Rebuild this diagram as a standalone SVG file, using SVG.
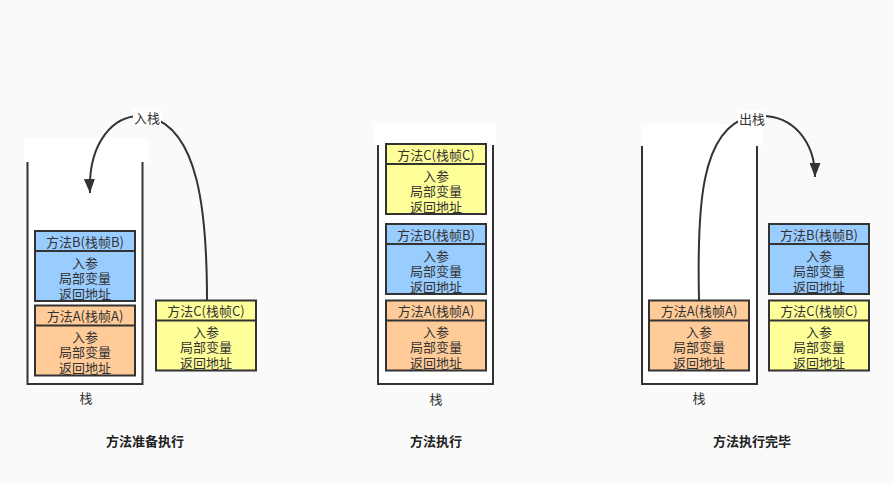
<svg xmlns="http://www.w3.org/2000/svg" width="894" height="484" viewBox="0 0 894 484">
<defs>
<style>
.bg{fill:#fafafa}
.stack{fill:#ffffff;stroke:#333;stroke-width:2}
.cover{fill:#ffffff}
.fr{stroke:#333;stroke-width:2}
.blue{fill:#99ccff}
.orange{fill:#ffcc99}
.yellow{fill:#ffff99}
text{font-family:"Noto Sans CJK SC","Noto Sans",sans-serif;font-size:13px;fill:#333;text-anchor:middle;dominant-baseline:central}
.title{font-weight:bold;font-size:13px;fill:#222}
.conn{fill:none;stroke:#333;stroke-width:2}
.lbl{fill:#ffffff}
</style>
<marker id="ah" viewBox="0 0 14 11" refX="14" refY="5.5" markerWidth="14" markerHeight="11" markerUnits="userSpaceOnUse" orient="auto">
<path d="M0,0 L14,5.5 L0,11 z" fill="#333"/>
</marker>
</defs>
<rect class="bg" x="0" y="0" width="894" height="484"/>

<g id="stack1">
<rect class="stack" x="27.5" y="150" width="115" height="234"/>
<rect class="cover" x="24" y="138" width="124" height="24"/>
<text x="86" y="397">栈</text>
</g>
<g id="stack2">
<rect class="stack" x="378" y="135" width="115" height="249"/>
<rect class="cover" x="374" y="124" width="122" height="21"/>
<text x="436" y="398">栈</text>
</g>
<g id="stack3">
<rect class="stack" x="642" y="135" width="115" height="249"/>
<rect class="cover" x="641" y="124" width="122" height="22"/>
<text x="699" y="397">栈</text>
</g>

<g id="s1-B">
<rect class="fr blue" x="35" y="231" width="100" height="70"/>
<line class="fr" x1="35" y1="251" x2="135" y2="251"/>
<text x="85" y="241">方法B(栈帧B)</text>
<text x="85" y="262">入参</text><text x="85" y="277">局部变量</text><text x="85" y="293">返回地址</text>
</g>
<g id="s1-A">
<rect class="fr orange" x="35" y="305.5" width="100" height="70"/>
<line class="fr" x1="35" y1="325.5" x2="135" y2="325.5"/>
<text x="85" y="315.5">方法A(栈帧A)</text>
<text x="85" y="336.5">入参</text><text x="85" y="351.5">局部变量</text><text x="85" y="367.5">返回地址</text>
</g>
<g id="s1-C">
<rect class="fr yellow" x="156" y="300.5" width="100" height="70"/>
<line class="fr" x1="156" y1="320.5" x2="256" y2="320.5"/>
<text x="206" y="310.5">方法C(栈帧C)</text>
<text x="206" y="331.5">入参</text><text x="206" y="346.5">局部变量</text><text x="206" y="362.5">返回地址</text>
</g>

<g id="s2-C">
<rect class="fr yellow" x="386" y="144" width="100" height="70"/>
<line class="fr" x1="386" y1="164" x2="486" y2="164"/>
<text x="436" y="154">方法C(栈帧C)</text>
<text x="436" y="175">入参</text><text x="436" y="190">局部变量</text><text x="436" y="206">返回地址</text>
</g>
<g id="s2-B">
<rect class="fr blue" x="386" y="224" width="100" height="70"/>
<line class="fr" x1="386" y1="244" x2="486" y2="244"/>
<text x="436" y="234">方法B(栈帧B)</text>
<text x="436" y="255">入参</text><text x="436" y="270">局部变量</text><text x="436" y="286">返回地址</text>
</g>
<g id="s2-A">
<rect class="fr orange" x="386" y="300.5" width="100" height="70"/>
<line class="fr" x1="386" y1="320.5" x2="486" y2="320.5"/>
<text x="436" y="310.5">方法A(栈帧A)</text>
<text x="436" y="331.5">入参</text><text x="436" y="346.5">局部变量</text><text x="436" y="362.5">返回地址</text>
</g>

<g id="s3-A">
<rect class="fr orange" x="649" y="300.5" width="100" height="70"/>
<line class="fr" x1="649" y1="320.5" x2="749" y2="320.5"/>
<text x="699" y="310.5">方法A(栈帧A)</text>
<text x="699" y="331.5">入参</text><text x="699" y="346.5">局部变量</text><text x="699" y="362.5">返回地址</text>
</g>
<g id="s3-B">
<rect class="fr blue" x="769" y="224" width="100" height="70"/>
<line class="fr" x1="769" y1="244" x2="869" y2="244"/>
<text x="819" y="234">方法B(栈帧B)</text>
<text x="819" y="255">入参</text><text x="819" y="270">局部变量</text><text x="819" y="286">返回地址</text>
</g>
<g id="s3-C">
<rect class="fr yellow" x="769" y="300.5" width="100" height="70"/>
<line class="fr" x1="769" y1="320.5" x2="869" y2="320.5"/>
<text x="819" y="310.5">方法C(栈帧C)</text>
<text x="819" y="331.5">入参</text><text x="819" y="346.5">局部变量</text><text x="819" y="362.5">返回地址</text>
</g>

<g id="connectors">
<path class="conn" d="M207,300 C207,210 198,130 150,117 C112,110 88,145 90,193" marker-end="url(#ah)"/>
<rect class="lbl" x="133" y="109" width="28" height="17"/>
<text x="147" y="117">入栈</text>
<path class="conn" d="M699,300 C697,210 700,128 750,117 C795,110 815,145 815,177" marker-end="url(#ah)"/>
<rect class="lbl" x="738" y="110" width="28" height="17"/>
<text x="752" y="118">出栈</text>
</g>

<g id="titles">
<text class="title" x="145" y="440">方法准备执行</text>
<text class="title" x="436" y="440">方法执行</text>
<text class="title" x="752" y="440">方法执行完毕</text>
</g>
</svg>
